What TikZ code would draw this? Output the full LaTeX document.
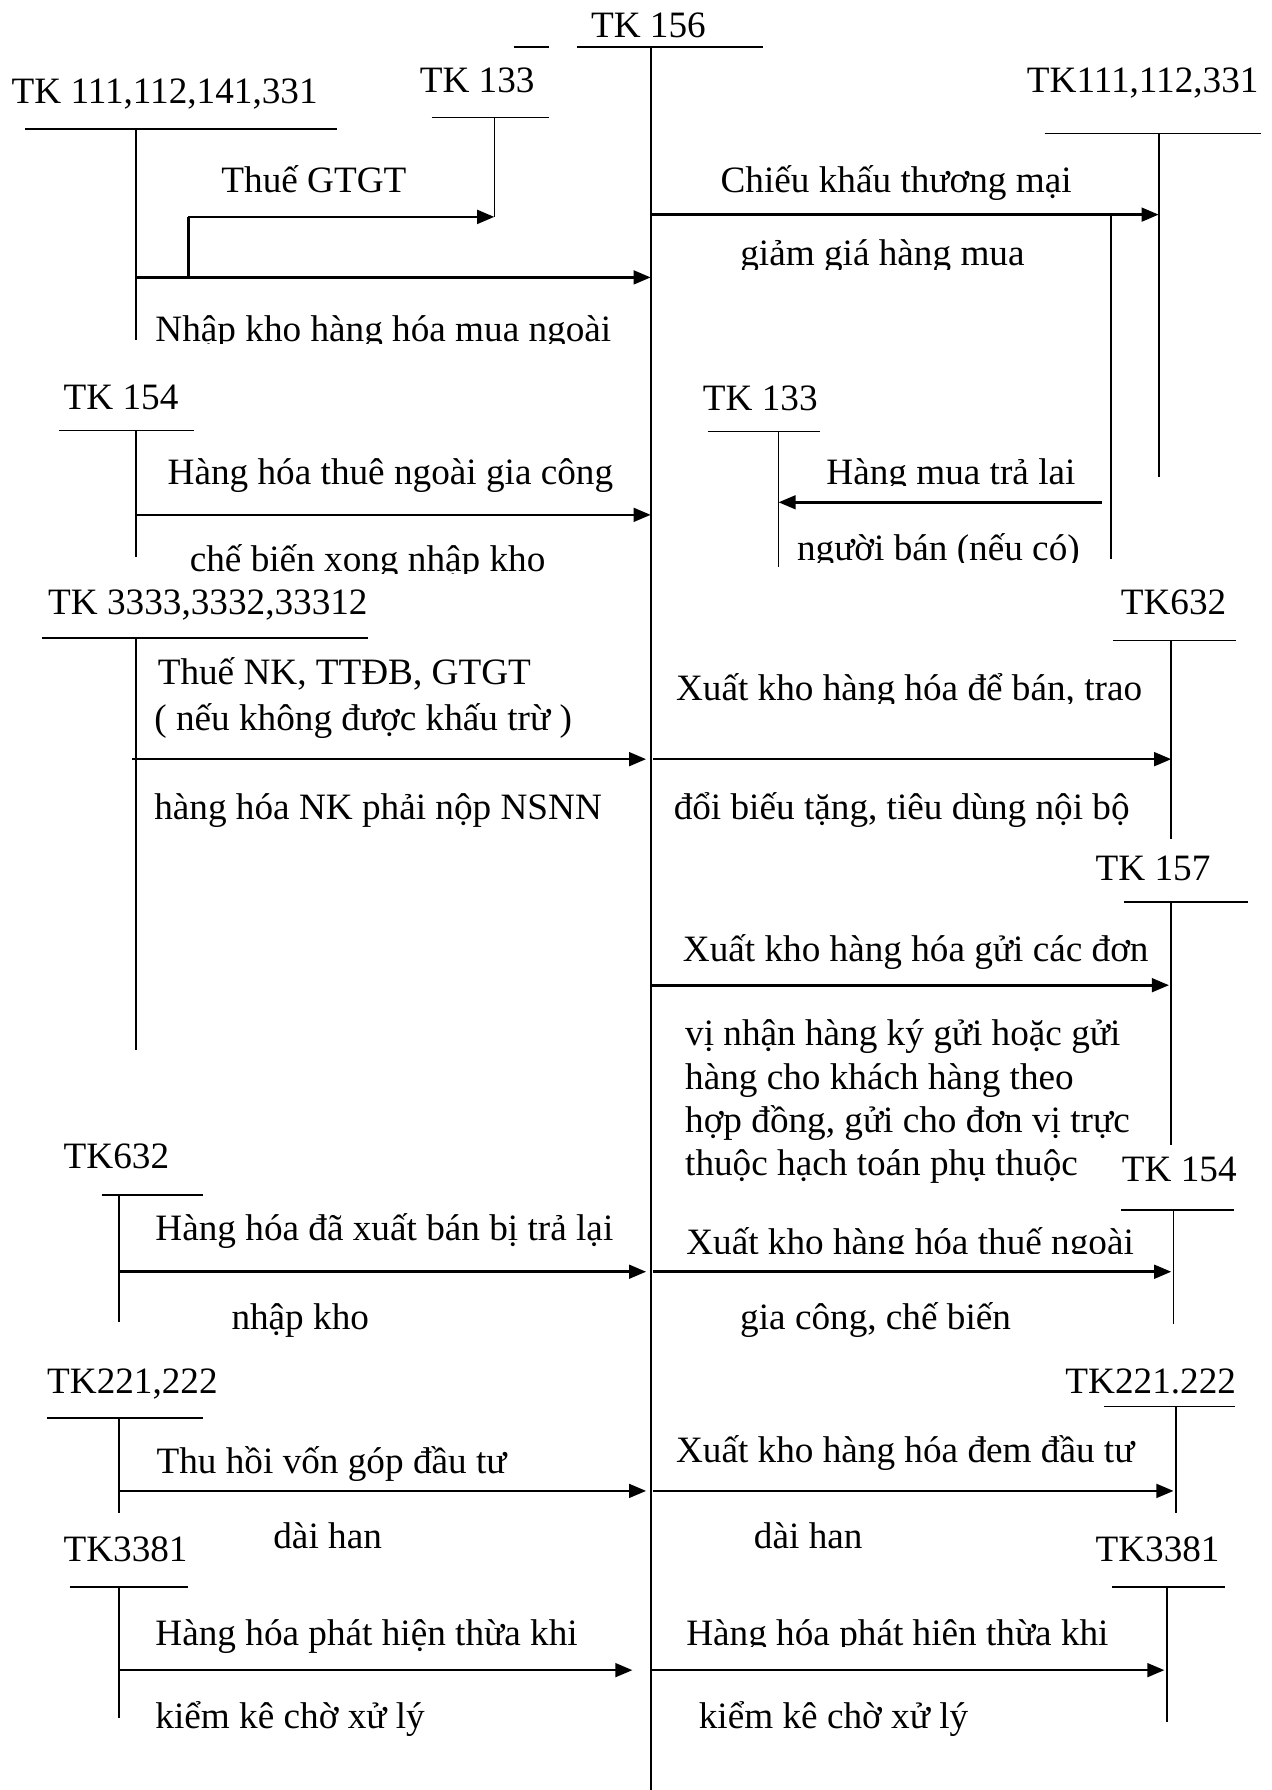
\documentclass[tikz,border=0pt]{standalone}
\usepackage{fontspec}
\setmainfont{Liberation Serif}
\usetikzlibrary{arrows.meta}
\begin{document}
\begin{tikzpicture}[x=1pt,y=-1pt,
  lb/.style={inner sep=0pt, font=\fontsize{32.6}{38}\selectfont, anchor=base west},
  cb/.style={inner sep=0pt, font=\fontsize{32.6}{38}\selectfont, anchor=base},
  bar/.style={line width=1.4pt},
  arr/.style={line width=2.3pt, -{Triangle[length=15pt,width=12pt]}},
  ln/.style={line width=2.3pt}]
\useasboundingbox (0,0) rectangle (1114,1568);
\fill[white] (0,0) rectangle (1114,1568);

% ---------- central account TK 156
\node[cb] (t156) at (568,33) {TK 156};
\coordinate (c156l) at (505,41); \coordinate (c156r) at (668,41);
\coordinate (c156t) at (570,41); \coordinate (c156b) at (570,1568);
\coordinate (d156l) at (450,41); \coordinate (d156r) at (481,41);
\draw[bar] (c156l) -- (c156r);
\draw[bar] (d156l) -- (d156r);
\draw[bar] (c156t) -- (c156b);

% ---------- TK 111,112,141,331
\node[lb] (t111) at (10,91) {TK 111,112,141,331};
\coordinate (a111l) at (22,113); \coordinate (a111r) at (295,113);
\coordinate (a111t) at (119,113); \coordinate (a111b) at (119,298);
\draw[bar] (a111l) -- (a111r);
\draw[bar] (a111t) -- (a111b);

% ---------- TK 133 (top)
\node[cb] (t133a) at (418,81) {TK 133};
\coordinate (a133l) at (378,103); \coordinate (a133r) at (481,103);
\coordinate (a133t) at (433,103); \coordinate (a133b) at (433,190);
\draw[bar] (a133l) -- (a133r);
\draw[bar] (a133t) -- (a133b);

% Thue GTGT
\coordinate (g1) at (165,243); \coordinate (g2) at (165,190);
\draw[ln] (g1) -- (g2);
\draw[arr] (g2) -- (a133b);
\node[cb] (lg) at (275,169) {Thuế GTGT};

% Nhap kho hang hoa mua ngoai
\coordinate (m1) at (119,243); \coordinate (m2) at (570,243);
\draw[arr] (m1) -- (m2);
\begin{scope}
\clip (130,250) rectangle (560,301);
\node[lb] (lm) at (136,299) {Nhập kho hàng hóa mua ngoài};
\end{scope}

% ---------- TK111,112,331 (right top)
\node[cb] (t111r) at (1001,81) {TK111,112,331};
\coordinate (b111l) at (915,117); \coordinate (b111r) at (1105,117);
\coordinate (b111t) at (1015,117); \coordinate (b111b) at (1015,418);
\draw[bar] (b111l) -- (b111r);
\draw[bar] (b111t) -- (b111b);

% Chieu khau thuong mai
\coordinate (ck1) at (570,188); \coordinate (ck2) at (1015,188);
\draw[arr] (ck1) -- (ck2);
\node[cb] (lck1) at (785,169) {Chiếu khấu thương mại};
\begin{scope}
\clip (600,195) rectangle (960,236);
\node[cb] (lck2) at (773,233) {giảm giá hàng mua};
\end{scope}
\coordinate (v1) at (973,188); \coordinate (v2) at (973,490);
\draw[bar] (v1) -- (v2);

% ---------- TK 154 (left)
\node[cb] (t154) at (106,359) {TK 154};
\coordinate (a154l) at (52,377); \coordinate (a154r) at (170,377);
\coordinate (a154t) at (119,377); \coordinate (a154b) at (119,488);
\draw[bar] (a154l) -- (a154r);
\draw[bar] (a154t) -- (a154b);
\coordinate (h1) at (119,451); \coordinate (h2) at (570,451);
\draw[arr] (h1) -- (h2);
\node[cb] (lh1) at (342,424) {Hàng hóa thuê ngoài gia công};
\begin{scope}
\clip (130,460) rectangle (560,502);
\node[cb] (lh2) at (322,501) {chế biến xong nhập kho};
\end{scope}

% ---------- TK 133 (middle)
\node[cb] (t133b) at (666,360) {TK 133};
\coordinate (b133l) at (620,378); \coordinate (b133r) at (718,378);
\coordinate (b133t) at (682,378); \coordinate (b133b) at (682,497);
\draw[bar] (b133l) -- (b133r);
\draw[bar] (b133t) -- (b133b);
\coordinate (r1) at (965,440); \coordinate (r2) at (682,440);
\draw[arr] (r1) -- (r2);
\begin{scope}
\clip (690,385) rectangle (965,425);
\node[cb] (lr1) at (833,424) {Hàng mua trả lại};
\end{scope}
\begin{scope}
\clip (690,452) rectangle (965,493);
\node[cb] (lr2) at (822,491) {người bán (nếu có)};
\end{scope}

% ---------- TK 3333,3332,33312
\node[lb] (t3333) at (42,538) {TK 3333,3332,33312};
\coordinate (a333l) at (37,559); \coordinate (a333r) at (322,559);
\coordinate (a333t) at (119,559); \coordinate (a333b) at (119,920);
\draw[bar] (a333l) -- (a333r);
\draw[bar] (a333t) -- (a333b);
\coordinate (n1) at (116,665); \coordinate (n2) at (566,665);
\draw[arr] (n1) -- (n2);
\node[lb] (ln1) at (138,600) {Thuế NK, TTĐB, GTGT};
\node[lb] (ln2) at (135,640) {( nếu không được khấu trừ )};
\node[lb] (ln3) at (135,718) {hàng hóa NK phải nộp NSNN};

% ---------- TK632 (right)
\node[cb] (t632r) at (1028,538) {TK632};
\coordinate (b632l) at (975,561); \coordinate (b632r) at (1083,561);
\coordinate (b632t) at (1026,561); \coordinate (b632b) at (1026,735);
\draw[bar] (b632l) -- (b632r);
\draw[bar] (b632t) -- (b632b);
\coordinate (x1) at (572,665); \coordinate (x2) at (1026,665);
\draw[arr] (x1) -- (x2);
\begin{scope}
\clip (585,570) rectangle (1020,616);
\node[lb] (lx1) at (592,614) {Xuất kho hàng hóa để bán, trao};
\end{scope}
\node[lb] (lx2) at (590,718) {đổi biếu tặng, tiêu dùng nội bộ};

% ---------- TK 157
\node[cb] (t157) at (1010,771) {TK 157};
\coordinate (a157l) at (985,790); \coordinate (a157r) at (1093,790);
\coordinate (a157t) at (1026,790); \coordinate (a157b) at (1026,1003);
\draw[bar] (a157l) -- (a157r);
\draw[bar] (a157t) -- (a157b);
\coordinate (k1) at (570,863); \coordinate (k2) at (1024,863);
\draw[arr] (k1) -- (k2);
\node[lb] (lk1) at (598,842) {Xuất kho hàng hóa gửi các đơn};
\node[lb] (lk2) at (600,916) {vị nhận hàng ký gửi hoặc gửi};
\node[lb] (lk3) at (600,954) {hàng cho khách hàng theo};
\node[lb] (lk4) at (600,992) {hợp đồng, gửi cho đơn vị trực};
\node[lb] (lk5) at (600,1030) {thuộc hạch toán phụ thuộc};

% ---------- TK 154 (right)
\node[cb] (t154r) at (1033,1035) {TK 154};
\coordinate (b154l) at (982,1060); \coordinate (b154r) at (1081,1060);
\coordinate (b154t) at (1028,1060); \coordinate (b154b) at (1028,1160);
\draw[bar] (b154l) -- (b154r);
\draw[bar] (b154t) -- (b154b);
\coordinate (e1) at (572,1114); \coordinate (e2) at (1026,1114);
\draw[arr] (e1) -- (e2);
\begin{scope}
\clip (590,1062) rectangle (1020,1098);
\node[lb] (le1) at (601,1099) {Xuất kho hàng hóa thuế ngoài};
\end{scope}
\node[cb] (le2) at (767,1165) {gia công, chế biến};

% ---------- TK632 (left)
\node[cb] (t632l) at (102,1024) {TK632};
\coordinate (a632l) at (89,1047); \coordinate (a632r) at (178,1047);
\coordinate (a632t) at (104,1047); \coordinate (a632b) at (104,1158);
\draw[bar] (a632l) -- (a632r);
\draw[bar] (a632t) -- (a632b);
\coordinate (s1) at (104,1114); \coordinate (s2) at (566,1114);
\draw[arr] (s1) -- (s2);
\node[lb] (ls1) at (136,1087) {Hàng hóa đã xuất bán bị trả lại};
\node[cb] (ls2) at (263,1165) {nhập kho};

% ---------- TK221,222 (left)
\node[cb] (t221l) at (116,1221) {TK221,222};
\coordinate (a221l) at (41,1242); \coordinate (a221r) at (178,1242);
\coordinate (a221t) at (104,1242); \coordinate (a221b) at (104,1325);
\draw[bar] (a221l) -- (a221r);
\draw[bar] (a221t) -- (a221b);
\coordinate (u1) at (104,1306); \coordinate (u2) at (566,1306);
\draw[arr] (u1) -- (u2);
\node[lb] (lu1) at (137,1291) {Thu hồi vốn góp đầu tư};
\node[cb] (lu2) at (287,1356) {dài han};

% ---------- TK221.222 (right)
\node[cb] (t221r) at (1008,1221) {TK221.222};
\coordinate (b221l) at (967,1232); \coordinate (b221r) at (1082,1232);
\coordinate (b221t) at (1030,1232); \coordinate (b221b) at (1030,1325);
\draw[bar] (b221l) -- (b221r);
\draw[bar] (b221t) -- (b221b);
\coordinate (w1) at (572,1306); \coordinate (w2) at (1028,1306);
\draw[arr] (w1) -- (w2);
\node[lb] (lw1) at (592,1281) {Xuất kho hàng hóa đem đầu tư};
\node[cb] (lw2) at (708,1356) {dài han};

% ---------- TK3381 (left)
\node[cb] (t3381l) at (110,1368) {TK3381};
\coordinate (a338l) at (61,1390); \coordinate (a338r) at (165,1390);
\coordinate (a338t) at (104,1390); \coordinate (a338b) at (104,1505);
\draw[bar] (a338l) -- (a338r);
\draw[bar] (a338t) -- (a338b);
\coordinate (p1) at (104,1463); \coordinate (p2) at (554,1463);
\draw[arr] (p1) -- (p2);
\node[lb] (lp1) at (136,1441) {Hàng hóa phát hiện thừa khi};
\node[lb] (lp2) at (136,1514) {kiểm kê chờ xử lý};

% ---------- TK3381 (right)
\node[cb] (t3381r) at (1014,1368) {TK3381};
\coordinate (b338l) at (974,1390); \coordinate (b338r) at (1073,1390);
\coordinate (b338t) at (1022,1390); \coordinate (b338b) at (1022,1508);
\draw[bar] (b338l) -- (b338r);
\draw[bar] (b338t) -- (b338b);
\coordinate (q1) at (570,1463); \coordinate (q2) at (1020,1463);
\draw[arr] (q1) -- (q2);
\begin{scope}
\clip (590,1400) rectangle (1015,1442);
\node[lb] (lq1) at (601,1441) {Hàng hóa phát hiện thừa khi};
\end{scope}
\node[lb] (lq2) at (612,1514) {kiểm kê chờ xử lý};
\end{tikzpicture}
\end{document}
